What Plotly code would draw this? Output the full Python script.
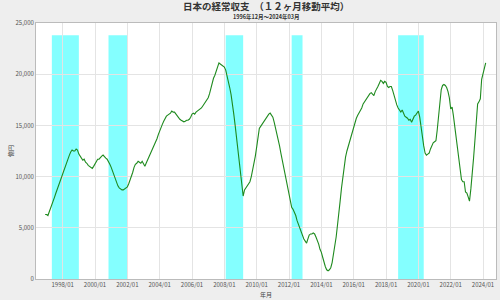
import plotly.graph_objects as go

# Monthly 12-month moving average of Japan's current account (億円), 1996/12 - 2024/03
start_year, start_month = 1996, 12
values = [
    6300,
    6300, 6200, 6500, 6900, 7200, 7600, 8000, 8400, 8800, 9100, 9500, 9900,          # 1997
    10300, 10700, 11000, 11500, 11900, 12100, 12400, 12600, 12500, 12500, 12700, 12600,  # 1998
    12200, 11900, 11800, 11600, 11700, 11400, 11300, 11100, 11000, 10900, 10800, 11000,  # 1999
    11300, 11500, 11700, 11700, 11900, 12000, 12100, 11900, 11800, 11700, 11500, 11200,  # 2000
    10900, 10500, 10100, 9700, 9400, 9100, 8900, 8800, 8700, 8700, 8800, 8900,          # 2001
    9000, 9300, 9600, 10000, 10400, 10900, 11200, 11300, 11500, 11400, 11300, 11500,    # 2002
    11300, 11000, 11300, 11600, 11800, 12100, 12500, 12800, 13100, 13300, 13700, 14100,  # 2003
    14500, 14800, 15100, 15400, 15700, 15900, 16000, 16100, 16200, 16400, 16300, 16300,  # 2004
    16100, 16000, 15800, 15600, 15500, 15400, 15350, 15400, 15500, 15500, 15600, 15800,  # 2005
    16100, 16200, 16100, 16300, 16400, 16500, 16600, 16700, 16900, 17100, 17300, 17500,  # 2006
    17700, 18100, 18600, 19200, 19600, 19900, 20300, 20700, 21100, 21000, 20900, 20800,  # 2007
    20700, 20400, 19900, 19400, 18700, 18000, 17200, 16100, 15000, 13800, 12800, 11700,  # 2008
    10500, 9200, 8100, 8700, 8900, 9000, 9200, 9500, 10000, 10600, 11300, 12000,        # 2009
    12900, 13800, 14700, 14900, 15100, 15300, 15600, 15800, 16000, 16100, 16200, 16000,  # 2010
    15800, 15300, 14800, 14200, 13600, 13000, 12300, 11600, 11100, 10500, 9900, 9200,   # 2011
    8200, 7600, 7000, 6800, 6500, 6200, 5700, 5300, 5000, 4600, 4200, 3900,            # 2012
    3700, 3500, 3900, 4300, 4400, 4400, 4500, 4400, 4100, 3800, 3400, 2900,            # 2013
    2600, 2100, 1600, 1200, 900, 800, 900, 1100, 1600, 2400, 3200, 4100,               # 2014
    5300, 6300, 7600, 8900, 10000, 11000, 11900, 12500, 13000, 13500, 13900, 14400,     # 2015
    14900, 15400, 15700, 16000, 16200, 16400, 16700, 17100, 17300, 17500, 17800, 18000,  # 2016
    18100, 18200, 18100, 17900, 18300, 18500, 18800, 19100, 19400, 19300, 19100, 19300,  # 2017
    19200, 18800, 18700, 18800, 18800, 18400, 17900, 17500, 17000, 16700, 16500, 16300,  # 2018
    16500, 16200, 15900, 15800, 15700, 15500, 15600, 15300, 15700, 15900, 16000, 16200,  # 2019
    16400, 15800, 14700, 13800, 13000, 12300, 12100, 12200, 12300, 12700, 13100, 13300,  # 2020
    13400, 13500, 14500, 16000, 17300, 18500, 18900, 19000, 18900, 18700, 18300, 17700,  # 2021
    16600, 16800, 16000, 14900, 14000, 13000, 12000, 11000, 9700, 9500, 9500, 8500,     # 2022
    8400, 8000, 7600, 8800, 10000, 11800, 13500, 15300, 17100, 17300, 17600, 19500,     # 2023
    20000, 20600, 21100,                                                               # 2024
]

dates = []
y, m = start_year, start_month
for _ in values:
    dates.append(f"{y:04d}-{m:02d}-01")
    m += 1
    if m > 12:
        m = 1
        y += 1

# Recession periods (shaded)
recession_starts = ["1997-05-01", "2000-11-01", "2008-02-01", "2012-03-01", "2018-10-01"]
recession_ends = ["1999-01-01", "2002-01-01", "2009-03-01", "2012-11-01", "2020-05-01"]
band_top = 23800

tick_years = list(range(1998, 2025, 2))
tick_vals = [f"{yy}-01-01" for yy in tick_years]
tick_text = [f"{yy}/01" for yy in tick_years]

title = "日本の経常収支　（１２ヶ月移動平均）"
subtitle = "1996年12月～2024年03月"

fig = go.Figure()
fig.add_trace(go.Scatter(x=dates, y=values, mode="lines",
                         line=dict(color="#1e8a1e", width=1.1), hoverinfo="skip"))

for s, e in zip(recession_starts, recession_ends):
    fig.add_shape(type="rect", xref="x", yref="y", x0=s, x1=e, y0=0, y1=band_top,
                  fillcolor="#84ffff", line=dict(width=0), layer="below")

font_family = "Noto Sans CJK JP"
fig.update_layout(
    width=500, height=300,
    margin=dict(l=36, r=4, t=23, b=21),
    paper_bgcolor="#eeeeee", plot_bgcolor="#ffffff",
    showlegend=False,
    font=dict(family=font_family, size=6, color="#444444"),
    xaxis=dict(type="date", range=["1996-05-08", "2024-10-20"],
               tickvals=tick_vals, ticktext=tick_text,
               showgrid=True, gridcolor="#e4e4e4", gridwidth=1,
               showline=True, linecolor="#bbbbbb", mirror=True,
               ticks="", tickfont=dict(size=6, color="#555555"), zeroline=False),
    yaxis=dict(range=[0, 25000], tickvals=[0, 5000, 10000, 15000, 20000, 25000],
               tickformat=",", showgrid=True, gridcolor="#e4e4e4", gridwidth=1,
               showline=True, linecolor="#bbbbbb", mirror=True,
               ticks="", tickfont=dict(size=6, color="#555555"), zeroline=False),
    annotations=[
        dict(text=f"<b>{title}</b>", x=0.5, y=1, xref="paper", yref="paper",
             showarrow=False, font=dict(size=9.5, color="#333333", family=font_family),
             xanchor="center", yanchor="middle", yshift=17),
        dict(text=f"<b>{subtitle}</b>", x=0.5, y=1, xref="paper", yref="paper",
             showarrow=False, font=dict(size=5.5, color="#333333", family=font_family),
             xanchor="center", yanchor="middle", yshift=6),
        dict(text="年月", x=0.5, y=0, xref="paper", yref="paper",
             showarrow=False, font=dict(size=6, color="#444444", family=font_family),
             xanchor="center", yanchor="top", yshift=-9),
        dict(text="億円", x=0, y=0.5, xref="paper", yref="paper", textangle=-90,
             showarrow=False, font=dict(size=6, color="#444444", family=font_family),
             xanchor="center", yanchor="middle", xshift=-26),
    ],
)

fig.write_html("out.html")
